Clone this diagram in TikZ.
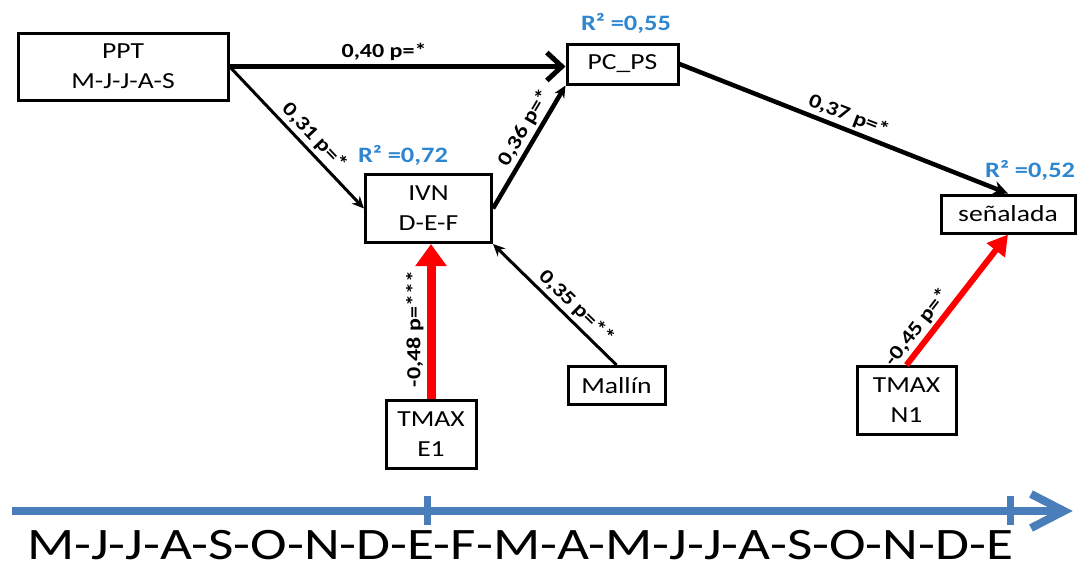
\documentclass[tikz,border=0pt]{standalone}
\usepackage{fontspec}
\setmainfont{Carlito}
\usetikzlibrary{arrows.meta,calc}
\definecolor{rblue}{RGB}{46,134,208}
\definecolor{tblue}{RGB}{74,126,187}
\newcommand{\sx}[1]{\scalebox{1.2}[1]{#1}}
\begin{document}
\begin{tikzpicture}[x=1pt,y=-1pt,
 box/.style={draw=black,line width=3pt,inner sep=0pt,align=center,font=\fontsize{23}{30}\selectfont},
 lab/.style={font=\bfseries\fontsize{20}{20}\selectfont,inner sep=3pt},
 rsq/.style={font=\bfseries\fontsize{22}{22}\selectfont,text=rblue,inner sep=0pt},
 sarrow/.style={-{Stealth[length=12pt,width=11pt]}},
]
\useasboundingbox (0,0) rectangle (1077,566);

% boxes
\node[box,minimum width=210,minimum height=67] (ppt) at (123,66.5) {\sx{PPT}\\\sx{M-J-J-A-S}};
\node[box,minimum width=111,minimum height=40] (pcps) at (622.5,64) {\sx{PC\_PS}};
\node[box,minimum width=126,minimum height=68] (ivn) at (428.5,208.5) {\sx{IVN}\\\sx{D-E-F}};
\node[box,minimum width=134,minimum height=38] (sen) at (1008,214) {\sx{señalada}};
\node[box,minimum width=90,minimum height=68] (tmaxe) at (431,434) {\sx{TMAX}\\\sx{E1}};
\node[box,minimum width=97,minimum height=38] (mallin) at (616.5,385.5) {\sx{Mallín}};
\node[box,minimum width=99,minimum height=68] (tmaxn) at (906.5,400.5) {\sx{TMAX}\\\sx{N1}};

% R2 labels
\node[rsq,anchor=base] (r55) at (626,30) {\sx{R² =0,55}};
\node[rsq,anchor=base] (r72) at (403,162) {\sx{R² =0,72}};
\node[rsq,anchor=base west] (r52) at (985,177) {\sx{R² =0,52}};

% connectors
\draw[line width=5pt,-{Straight Barb[length=15pt,width=28pt]}] (ppt.east) -- node[lab,above,pos=0.46] {\sx{0,40 p=*}} (ppt.east -| pcps.west);
\draw[line width=3pt,sarrow] (ppt.east) -- node[lab,sloped,above,pos=0.56] {\sx{0,31 p=*}} (ivn.west);
\draw[line width=4.5pt,sarrow] (ivn.east) -- node[lab,sloped,above,pos=0.6] {\sx{0,36 p=*}} (pcps.south west);
\draw[line width=4.5pt,-{Stealth[length=15pt,width=14pt]}] (pcps.east) -- node[lab,sloped,above,pos=0.5] {\sx{0,37 p=*}} (sen.north);
\draw[line width=3pt,sarrow] (mallin.north) -- node[lab,sloped,above,pos=0.4] {\sx{0,35 p=**}} (ivn.south east);
\draw[red,line width=9pt,-{Triangle[length=22pt,width=30pt]}] (tmaxe.north) -- node[lab,text=black,sloped,above,pos=0.45] {\sx{-0,48 p=***}} (tmaxe.north |- ivn.south);
\draw[red,line width=6pt,-{Triangle[length=20pt,width=22pt]}] (tmaxn.north) -- node[lab,text=black,sloped,above,pos=0.22] {\sx{-0,45 p=*}} (sen.south);

% timeline
\coordinate (t0) at (12,511);
\coordinate (t1) at (1060,511);
\coordinate (tk1) at (427,511);
\coordinate (tk2) at (1010,511);
\draw[tblue,line width=8pt] (t0) -- (t1);
\draw[tblue,line width=8pt,line join=miter] (1031,494) -- (1064,511) -- (1031,528);
\draw[tblue,line width=7pt] ([yshift=-14pt]tk1) -- ([yshift=15pt]tk1);
\draw[tblue,line width=7pt] ([yshift=-14pt]tk2) -- ([yshift=15pt]tk2);
\node[anchor=base west,inner sep=0pt] (months) at (27,559) {\resizebox{986pt}{\height}{\fontsize{45}{45}\selectfont M-J-J-A-S-O-N-D-E-F-M-A-M-J-J-A-S-O-N-D-E}};
\end{tikzpicture}
\end{document}
